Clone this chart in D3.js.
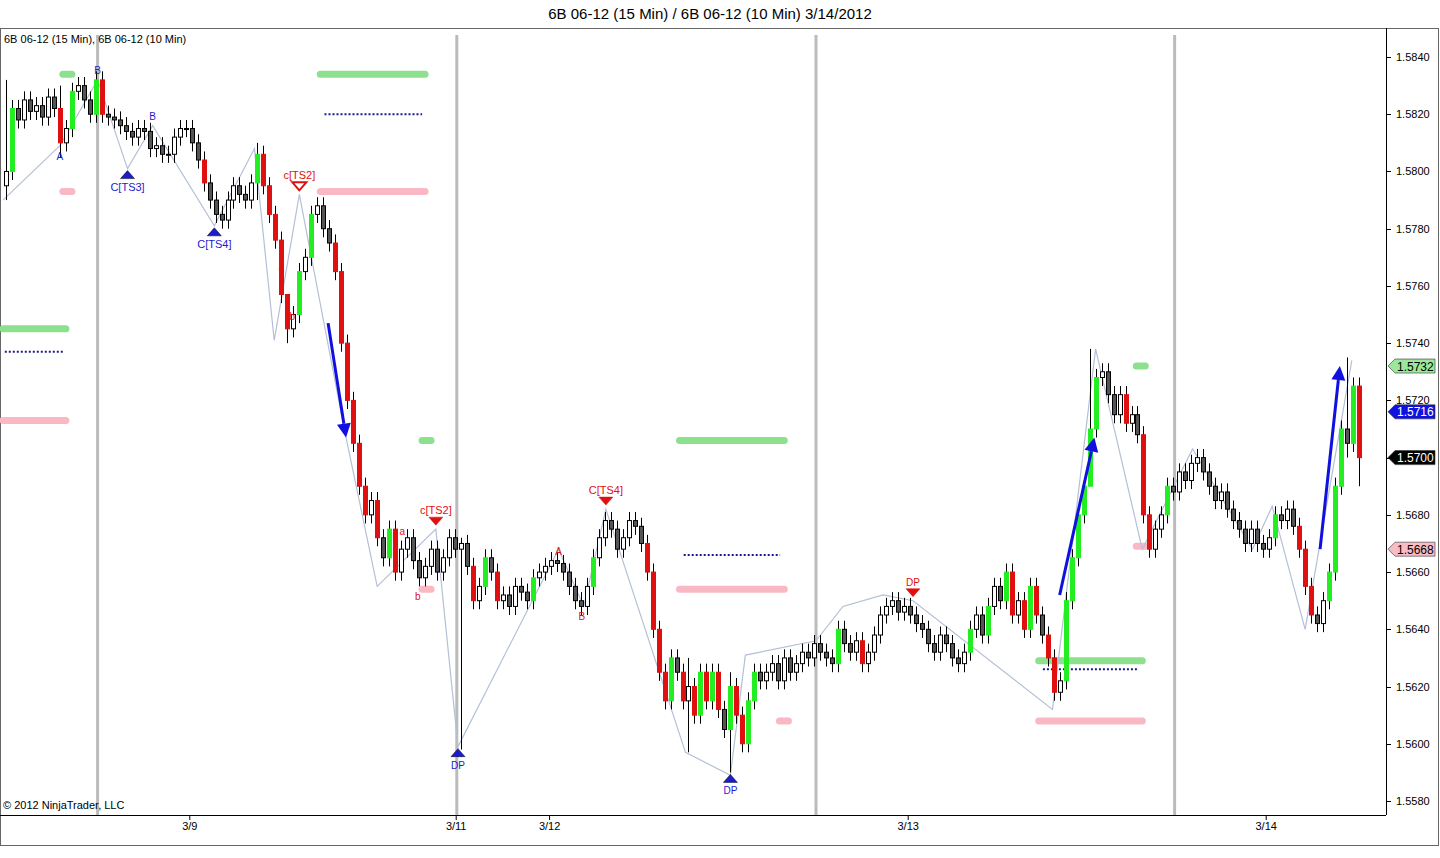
<!DOCTYPE html>
<html><head><meta charset="utf-8">
<script src="https://cdn.jsdelivr.net/npm/d3@7"></script>
<style>body{margin:0;background:#fff;font-family:Arial,"Liberation Sans",sans-serif}</style>
</head><body><div id="chart"></div>
<script>
"use strict";
// closes, one per 10-minute bar (open = previous close)
const closes = [
  1.5800,1.5822,1.5818,1.5825,1.5821,1.5823,1.5819,1.5826,1.5822,1.5810,1.5815,1.5828,1.5830,1.5825,1.5820,1.5832,
  1.5820,1.5819,1.5818,1.5816,1.5814,1.5812,1.5815,1.5814,1.5808,1.5809,1.5806,1.5806,1.5812,1.5815,1.5815,1.5810,1.5804,1.5796,1.5790,1.5785,
  1.5783,1.5790,1.5795,1.5792,1.5790,1.5796,1.5806,1.5795,1.5785,1.5776,1.5757,1.5745,1.5750,1.5765,
  1.5770,1.5785,1.5788,1.5780,1.5775,1.5765,1.5740,1.5720,
  1.5705,1.5690,1.5680,1.5685,1.5672,1.5665,1.5675,1.5660,1.5668,1.5672,1.5664,1.5658,1.5662,1.5668,1.5660,1.5665,1.5672,1.5668,1.5670,
  1.5662,1.5650,1.5655,1.5665,1.5660,1.5650,1.5652,1.5648,1.5655,1.5653,1.5650,1.5658,1.5660,1.5662,1.5664,1.5663,1.5660,
  1.5655,1.5650,1.5648,1.5655,1.5665,1.5672,1.5678,1.5675,1.5668,1.5672,1.5678,1.5676,1.5670,
  1.5660,1.5640,1.5625,1.5615,1.5630,1.5625,1.5615,1.5620,1.5610,1.5625,
  1.5615,1.5625,1.5612,1.5605,1.5620,1.5610,1.5600,1.5615,1.5625,1.5622,
  1.5625,1.5628,1.5622,1.5630,1.5625,1.5628,1.5632,1.5630,1.5635,1.5632,
  1.5630,1.5628,1.5640,1.5635,1.5632,1.5636,1.5628,1.5632,1.5638,1.5645,1.5648,1.5650,1.5646,
  1.5648,1.5645,1.5642,1.5640,1.5635,1.5632,1.5638,1.5635,1.5630,1.5628,1.5632,1.5640,1.5645,1.5638,1.5648,1.5655,1.5650,
  1.5660,1.5645,1.5650,1.5640,1.5655,1.5645,1.5638,1.5630,1.5618,1.5622,
  1.5650,1.5665,1.5680,1.5690,1.5710,1.5728,1.5730,1.5722,1.5715,1.5722,1.5712,1.5715,1.5708,1.5680,
  1.5668,1.5675,1.5680,1.5690,1.5688,1.5695,1.5692,1.5698,1.5700,1.5695,1.5690,1.5685,1.5688,1.5682,1.5678,1.5675,
  1.5670,1.5675,1.5670,1.5668,1.5672,1.5680,1.5678,1.5682,1.5676,1.5668,
  1.5655,1.5645,1.5642,1.5650,1.5660,1.5690,1.5710,1.5705,1.5725,1.5700
];
// [bar, high, low] for the long wicks
const spikes = [[0,1.5832,1.5790],[9,1.5830,1.5805],[42,1.5810,1.5790],[47,1.5755,1.5740],[76,1.5672,1.5598],
  [114,1.5630,1.5597],[121,1.5625,1.5590],[181,1.5738,1.5700],[224,1.5735,1.5700],[226,1.5728,1.5690]];
const zigzag = [[0,1.5790],[9.5,1.5809],[15.8,1.5832],[20.8,1.5801],[25,1.5816],[35.3,1.5781],[42,1.5808],[45.3,1.5741],
  [49.5,1.5792],[57,1.5710],[62.5,1.5655],[72.3,1.5675],[76,1.5599],[92.8,1.5668],[97,1.5648],[100.7,1.5682],[114,1.5597],
  [121.5,1.5589],[124,1.5631],[135.8,1.5636],[140.3,1.5648],[147,1.5652],[152,1.5650],[175.3,1.5612],[182.5,1.5738],
  [190.3,1.5668],[198.7,1.5703],[208.7,1.5668],[212,1.5683],[217.5,1.5640],[225.3,1.5734]];
// [x0, x1, price]
const greenLevels = [[53,70.5,1.5834],[0,10.5,1.5745],[113,130.5,1.5706],[173,190.3,1.5629],[10,11.5,1.5834],[70,71.5,1.5706],[189.3,190.8,1.5732]];
const blueLevels = [[53.7,70,1.5820],[0.3,10,1.5737],[113.7,129.8,1.5666],[173.7,189.7,1.5626]];
const pinkLevels = [[53,70.5,1.5793],[0,10.5,1.5713],[113,130.5,1.5654],[173,190.3,1.5608],[10,11.5,1.5793],[70,71.5,1.5654],[129.7,131.2,1.5608],[189.3,190.8,1.5669]];
const arrows = [[54.3,1.5747,57.3,1.5707],[176.5,1.5652,182.3,1.5707],[220,1.5668,223.3,1.5732]];
// [bar, price, text, colour, marker: up/down/hollow/none, text below?]
const marks = [
  [15.8,1.5832,"B","#1b1bd0","none",false],[9.5,1.5809,"A","#1b1bd0","none",true],[25,1.5816,"B","#1b1bd0","none",false],
  [20.8,1.5801,"C[TS3]","#1b1bd0","up",true],[35.3,1.5781,"C[TS4]","#1b1bd0","up",true],
  [49.5,1.5792,"c[TS2]","#e01010","hollow",false],[46.5,1.5763,"a","#e01010","none",false],[48.3,1.5753,"b","#e01010","none",true],
  [72.3,1.5675,"c[TS2]","#e01010","down",false],[66.7,1.5671,"a","#e01010","none",false],[69.3,1.5655,"b","#e01010","none",true],
  [76,1.5599,"DP","#1b1bd0","up",true],[92.8,1.5664,"A","#e01010","none",false],[96.7,1.5648,"B","#e01010","none",true],
  [100.7,1.5682,"C[TS4]","#e01010","down",false],[121.5,1.5590,"DP","#1b1bd0","up",true],[152,1.5650,"DP","#e01010","down",false]
];
const sessionLines = [15.8,75.8,135.8,195.7];
const xTicks = [[31.2,"3/9"],[75.7,"3/11"],[91.3,"3/12"],[151.2,"3/13"],[211,"3/14"]];
const yTicks = d3.range(1.5580,1.58401,0.002);
const priceTags = [[1.5732,"#9be89b","#000"],[1.5716,"#1010e0","#fff"],[1.5700,"#000","#fff"],[1.5668,"#f7bcc4","#000"]];

const W = 1440, H = 858, plotR = 1386, plotT = 28, plotB = 815;
const svg = d3.select("#chart").append("svg").attr("width", W).attr("height", H)
  .style("font-family", "Arial, 'Liberation Sans', sans-serif");
const x = d3.scaleLinear().domain([0, closes.length]).range([3, 1362]);
const y = d3.scaleLinear().domain([1.5580, 1.5840]).range([801, 57]);

svg.append("text").attr("x", 710).attr("y", 19).attr("text-anchor", "middle").attr("font-size", 15).text("6B 06-12 (15 Min) / 6B 06-12 (10 Min)  3/14/2012");
svg.append("rect").attr("x", 0.5).attr("y", plotT + 0.5).attr("width", W - 2).attr("height", 845 - plotT).attr("fill", "none").attr("stroke", "#666");
svg.append("line").attr("x1", plotR + 0.5).attr("x2", plotR + 0.5).attr("y1", plotT).attr("y2", plotB).attr("stroke", "#000");
svg.append("line").attr("x1", 0).attr("x2", plotR).attr("y1", plotB + 0.5).attr("y2", plotB + 0.5).attr("stroke", "#000");

svg.selectAll(".sess").data(sessionLines).join("line").attr("x1", d => x(d)).attr("x2", d => x(d))
  .attr("y1", 35).attr("y2", plotB).attr("stroke", "#bbb").attr("stroke-width", 3);

// y axis
const ya = svg.append("g");
yTicks.forEach(t => {
  ya.append("line").attr("x1", plotR).attr("x2", plotR + 5).attr("y1", Math.round(y(t)) + 0.5).attr("y2", Math.round(y(t)) + 0.5).attr("stroke", "#000");
  ya.append("text").attr("x", plotR + 10).attr("y", y(t) + 4).attr("font-size", 11).text(d3.format(".4f")(t));
});
xTicks.forEach(([i, s]) => {
  svg.append("line").attr("x1", x(i)).attr("x2", x(i)).attr("y1", plotB).attr("y2", plotB + 5).attr("stroke", "#000");
  svg.append("text").attr("x", x(i)).attr("y", 830).attr("text-anchor", "middle").attr("font-size", 11).text(s);
});
svg.append("text").attr("x", 4).attr("y", 43).attr("font-size", 11).text("6B 06-12 (15 Min), 6B 06-12 (10 Min)");
svg.append("text").attr("x", 3).attr("y", 809).attr("font-size", 11).text("© 2012 NinjaTrader, LLC");

// levels
const lvl = (data, col, h, dash) => svg.append("g").selectAll("line").data(data).join("line")
  .attr("x1", d => x(d[0])).attr("x2", d => x(d[1])).attr("y1", d => y(d[2])).attr("y2", d => y(d[2]))
  .attr("stroke", col).attr("stroke-width", h).attr("stroke-linecap", dash ? "butt" : "round").attr("stroke-dasharray", dash);
lvl(greenLevels, "#8de08d", 7, null);
lvl(pinkLevels, "#f9b8c4", 7, null);
lvl(blueLevels, "#1a1a90", 2, "2,2");

// zigzag
svg.append("path").datum(zigzag).attr("fill", "none").attr("stroke", "#b4c0d6").attr("stroke-width", 1.2)
  .attr("d", d3.line().x(d => x(d[0])).y(d => y(d[1])));

// candles
const bars = closes.map((c, i) => {
  const o = i ? closes[i - 1] : c - 0.0005;
  const sp = spikes.find(s => s[0] === i);
  return { i, o, c, h: sp ? sp[1] : Math.max(o, c) + 0.0003, l: sp ? sp[2] : Math.min(o, c) - 0.0003 };
});
const g = svg.append("g");
bars.forEach(b => {
  const cx = Math.round(x(b.i + 0.5)) + 0.5, d = b.c - b.o;
  const fill = d > 0.0008 ? "#22ee22" : d < -0.0008 ? "#e01010" : d >= 0 ? "#fff" : "#555";
  const stroke = Math.abs(d) > 0.0008 ? fill : "#000";
  g.append("line").attr("x1", cx).attr("x2", cx).attr("y1", y(b.h)).attr("y2", y(b.l)).attr("stroke", "#000");
  const top = y(Math.max(b.o, b.c)), bot = y(Math.min(b.o, b.c));
  g.append("rect").attr("x", cx - 2).attr("y", top).attr("width", 4).attr("height", Math.max(1, bot - top))
    .attr("fill", fill).attr("stroke", stroke).attr("stroke-width", 1);
});

// arrows
arrows.forEach(([i0, p0, i1, p1]) => {
  const x0 = x(i0), y0 = y(p0), x1 = x(i1), y1 = y(p1);
  const a = Math.atan2(y1 - y0, x1 - x0), L = 14, w = 7;
  const bx = x1 - L * Math.cos(a), by = y1 - L * Math.sin(a);
  svg.append("line").attr("x1", x0).attr("y1", y0).attr("x2", bx).attr("y2", by).attr("stroke", "#1010e0").attr("stroke-width", 3);
  svg.append("path").attr("fill", "#1010e0").attr("d",
    `M${x1},${y1}L${bx - w * Math.sin(a)},${by + w * Math.cos(a)}L${bx + w * Math.sin(a)},${by - w * Math.cos(a)}Z`);
});

// markers and labels
marks.forEach(([i, p, t, col, m, below]) => {
  const cx = x(i), cy = y(p);
  let ty;
  if (m === "up") {
    svg.append("path").attr("d", `M${cx},${cy + 2}L${cx - 7},${cy + 10}L${cx + 7},${cy + 10}Z`).attr("fill", col).attr("stroke", "#000").attr("stroke-width", 0.5);
    ty = cy + 22;
  } else if (m === "down" || m === "hollow") {
    svg.append("path").attr("d", `M${cx},${cy - 4}L${cx - 7},${cy - 12}L${cx + 7},${cy - 12}Z`)
      .attr("fill", m === "down" ? col : "#fff").attr("stroke", col).attr("stroke-width", m === "down" ? 0.5 : 2);
    ty = cy - 15;
  } else ty = below ? cy + 14 : cy - 6;
  svg.append("text").attr("x", cx).attr("y", ty).attr("text-anchor", "middle").attr("font-size", t.length > 2 ? 11 : 10).attr("fill", col).text(t);
});

// price tags
priceTags.forEach(([p, bg, fg]) => {
  const ty = y(p);
  svg.append("path").attr("d", `M${plotR + 2},${ty}L${plotR + 9},${ty - 7}L${plotR + 49},${ty - 7}L${plotR + 49},${ty + 7}L${plotR + 9},${ty + 7}Z`)
    .attr("fill", bg).attr("stroke", "#333").attr("stroke-width", 0.6);
  svg.append("text").attr("x", plotR + 11).attr("y", ty + 4.5).attr("font-size", 12).attr("fill", fg).text(d3.format(".4f")(p));
});
</script></body></html>
